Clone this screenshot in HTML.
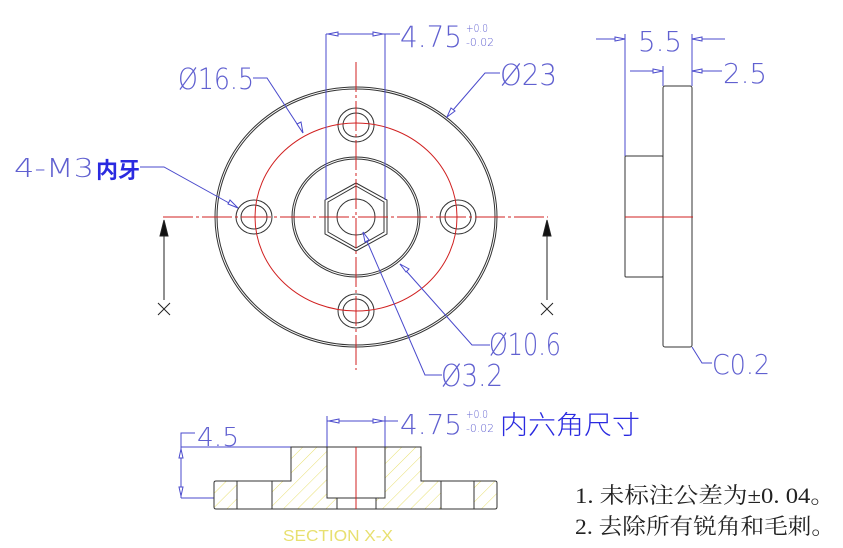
<!DOCTYPE html>
<html><head><meta charset="utf-8"><style>
html,body{margin:0;padding:0;background:#fff}
svg{display:block}
.d{font-family:"DejaVu Sans","Liberation Sans","Noto Sans CJK SC",sans-serif;fill:#6060d0;font-weight:200}
</style></head><body>
<svg width="843" height="548" viewBox="0 0 843 548" xmlns="http://www.w3.org/2000/svg">
<defs>
<pattern id="h" width="10" height="10" patternUnits="userSpaceOnUse" patternTransform="rotate(45)">
<line x1="0" y1="0" x2="0" y2="10" stroke="#e8e070" stroke-width="1"/>
</pattern>
</defs>
<g fill="none" stroke="#333" stroke-width="1">
<ellipse cx="356" cy="217" rx="141" ry="130"/>
<ellipse cx="356" cy="217" rx="139" ry="128"/>
<ellipse cx="356" cy="217" rx="64" ry="60"/>
<ellipse cx="356" cy="217" rx="62" ry="58"/>
<polygon points="356,183 387,200 387,234 356,251 325,234 325,200"/>
<polygon points="356,186 384,202 384,232 356,248 328,232 328,202"/>
<ellipse cx="356" cy="217" rx="19" ry="18"/>
<ellipse cx="254" cy="217" rx="18" ry="17"/><ellipse cx="254" cy="217" rx="13" ry="12"/>
<ellipse cx="458" cy="217" rx="18" ry="17"/><ellipse cx="458" cy="217" rx="13" ry="12"/>
<ellipse cx="356" cy="125" rx="18" ry="17"/><ellipse cx="356" cy="125" rx="13" ry="12"/>
<ellipse cx="356" cy="311" rx="18" ry="17"/><ellipse cx="356" cy="311" rx="13" ry="12"/>
<rect x="663" y="86" width="29" height="261" rx="2"/>
<rect x="625" y="156" width="38" height="121" rx="1"/>
</g>
<g stroke="#d02020" fill="none" stroke-width="1">
<ellipse cx="356" cy="217" rx="101" ry="94"/>
<line x1="163" y1="217" x2="548" y2="217" stroke-dasharray="30,3,3,3"/>
<line x1="356" y1="62" x2="356" y2="370" stroke-dasharray="30,3,3,3"/>
<line x1="625" y1="217" x2="693" y2="217"/>
<line x1="356" y1="447" x2="356" y2="509"/>
</g>
<g stroke="#222" fill="#111">
<line x1="164" y1="225" x2="164" y2="300"/><polygon points="160,236 168,236 164,220"/>
<line x1="547" y1="225" x2="547" y2="300"/><polygon points="543,236 551,236 547,220"/>
<path d="M158 303 L170 315 M170 303 L158 315 M541 303 L553 315 M553 303 L541 315" fill="none"/>
</g>
<g stroke="#4a4acc" fill="none" stroke-width="1">
<line x1="326" y1="34" x2="326" y2="200"/><line x1="385" y1="34" x2="385" y2="200"/>
<line x1="326" y1="34" x2="400" y2="34"/>
<polyline points="253,78 267,78 303,133"/>
<polyline points="500,73 485,73 447,117"/>
<polyline points="140,167 164,167 238,208"/>
<polyline points="400,264 472,345 490,345"/>
<polyline points="363,232 425,375 442,375"/>
<line x1="596" y1="39" x2="625" y2="39"/><line x1="692" y1="39" x2="725" y2="39"/>
<line x1="630" y1="71" x2="663" y2="71"/><line x1="692" y1="71" x2="722" y2="71"/>
<line x1="625" y1="34" x2="625" y2="156"/><line x1="663" y1="66" x2="663" y2="86"/><line x1="692" y1="34" x2="692" y2="86"/>
<polyline points="692,347 702,363 712,363"/>
<polyline points="195,433 181,433 181,498"/>
<line x1="181" y1="447" x2="291" y2="447"/><line x1="181" y1="498" x2="214" y2="498"/>
<line x1="327" y1="421" x2="398" y2="421"/><line x1="327" y1="416" x2="327" y2="447"/><line x1="385" y1="416" x2="385" y2="447"/>
</g>
<g fill="#fff" stroke="#4a4acc" stroke-width="1">
<polygon points="328,34 338,32 338,36"/><polygon points="383,34 373,32 373,36"/>
<polygon points="303,133 297,124 301,122"/><polygon points="447,117 451,108 455,111"/>
<polygon points="238,208 228,204 230,200"/><polygon points="400,264 406,272 409,269"/>
<polygon points="363,232 365,242 369,240"/>
<polygon points="625,39 615,37 615,41"/><polygon points="692,39 702,37 702,41"/>
<polygon points="663,71 653,69 653,73"/><polygon points="692,71 702,69 702,73"/>
<polygon points="181,449 179,458 183,458"/><polygon points="181,496 179,487 183,487"/>
<polygon points="329,421 339,419 339,423"/><polygon points="383,421 373,419 373,423"/>
</g>
<path d="M216 481 H291 V447 H421 V481 H495 Q497 481 497 483 V507 Q497 509 495 509 H216 Q214 509 214 507 V483 Q214 481 216 481 Z" fill="url(#h)" stroke="#333"/>
<g fill="#fff" stroke="#333">
<rect x="327" y="447" width="58" height="51"/>
<rect x="337" y="498" width="39" height="11"/>
<rect x="237" y="481" width="35" height="28"/>
<rect x="441" y="481" width="33" height="28"/>
</g>
<line x1="356" y1="447" x2="356" y2="509" stroke="#d02020"/>
<text x="283" y="541" font-family="Liberation Sans,sans-serif" font-size="16" fill="#e8e070" textLength="110" lengthAdjust="spacingAndGlyphs">SECTION X-X</text>
<g class="d">
<text x="400" y="47" font-size="29" textLength="62" lengthAdjust="spacingAndGlyphs">4.75</text>
<text x="466" y="32" font-size="11" textLength="22" lengthAdjust="spacingAndGlyphs">+0.0</text><text x="466" y="46" font-size="11" textLength="28" lengthAdjust="spacingAndGlyphs">-0.02</text>
<text x="178" y="89" font-size="29" textLength="76" lengthAdjust="spacingAndGlyphs">Ø16.5</text>
<text x="500" y="85" font-size="29" textLength="57" lengthAdjust="spacingAndGlyphs">Ø23</text>
<text x="14" y="177" font-size="26" textLength="80" lengthAdjust="spacingAndGlyphs">4-M3</text>
<text x="96" y="178" font-size="22" fill="#2a2ae0" font-weight="bold">内牙</text>
<text x="489" y="355" font-size="30" textLength="72" lengthAdjust="spacingAndGlyphs">Ø10.6</text>
<text x="441" y="386" font-size="30" textLength="62" lengthAdjust="spacingAndGlyphs">Ø3.2</text>
<text x="638" y="51" font-size="28" textLength="44" lengthAdjust="spacingAndGlyphs">5.5</text>
<text x="723" y="83" font-size="28" textLength="44" lengthAdjust="spacingAndGlyphs">2.5</text>
<text x="712" y="374" font-size="28" textLength="58" lengthAdjust="spacingAndGlyphs">C0.2</text>
<text x="197" y="446" font-size="26" textLength="42" lengthAdjust="spacingAndGlyphs">4.5</text>
<text x="400" y="434" font-size="28" textLength="62" lengthAdjust="spacingAndGlyphs">4.75</text>
<text x="466" y="418" font-size="11" textLength="22" lengthAdjust="spacingAndGlyphs">+0.0</text><text x="466" y="432" font-size="11" textLength="28" lengthAdjust="spacingAndGlyphs">-0.02</text>
<text x="500" y="434" font-size="26" fill="#2a2ae0" textLength="140" lengthAdjust="spacingAndGlyphs">内六角尺寸</text>
</g>
<g font-family="Liberation Serif,'Noto Serif CJK SC',serif" font-size="22" fill="#222">
<text x="575" y="503" textLength="260" lengthAdjust="spacingAndGlyphs">1. 未标注公差为±0. 04。</text>
<text x="575" y="534" textLength="260" lengthAdjust="spacingAndGlyphs">2. 去除所有锐角和毛刺。</text>
</g>
</svg>
</body></html>
